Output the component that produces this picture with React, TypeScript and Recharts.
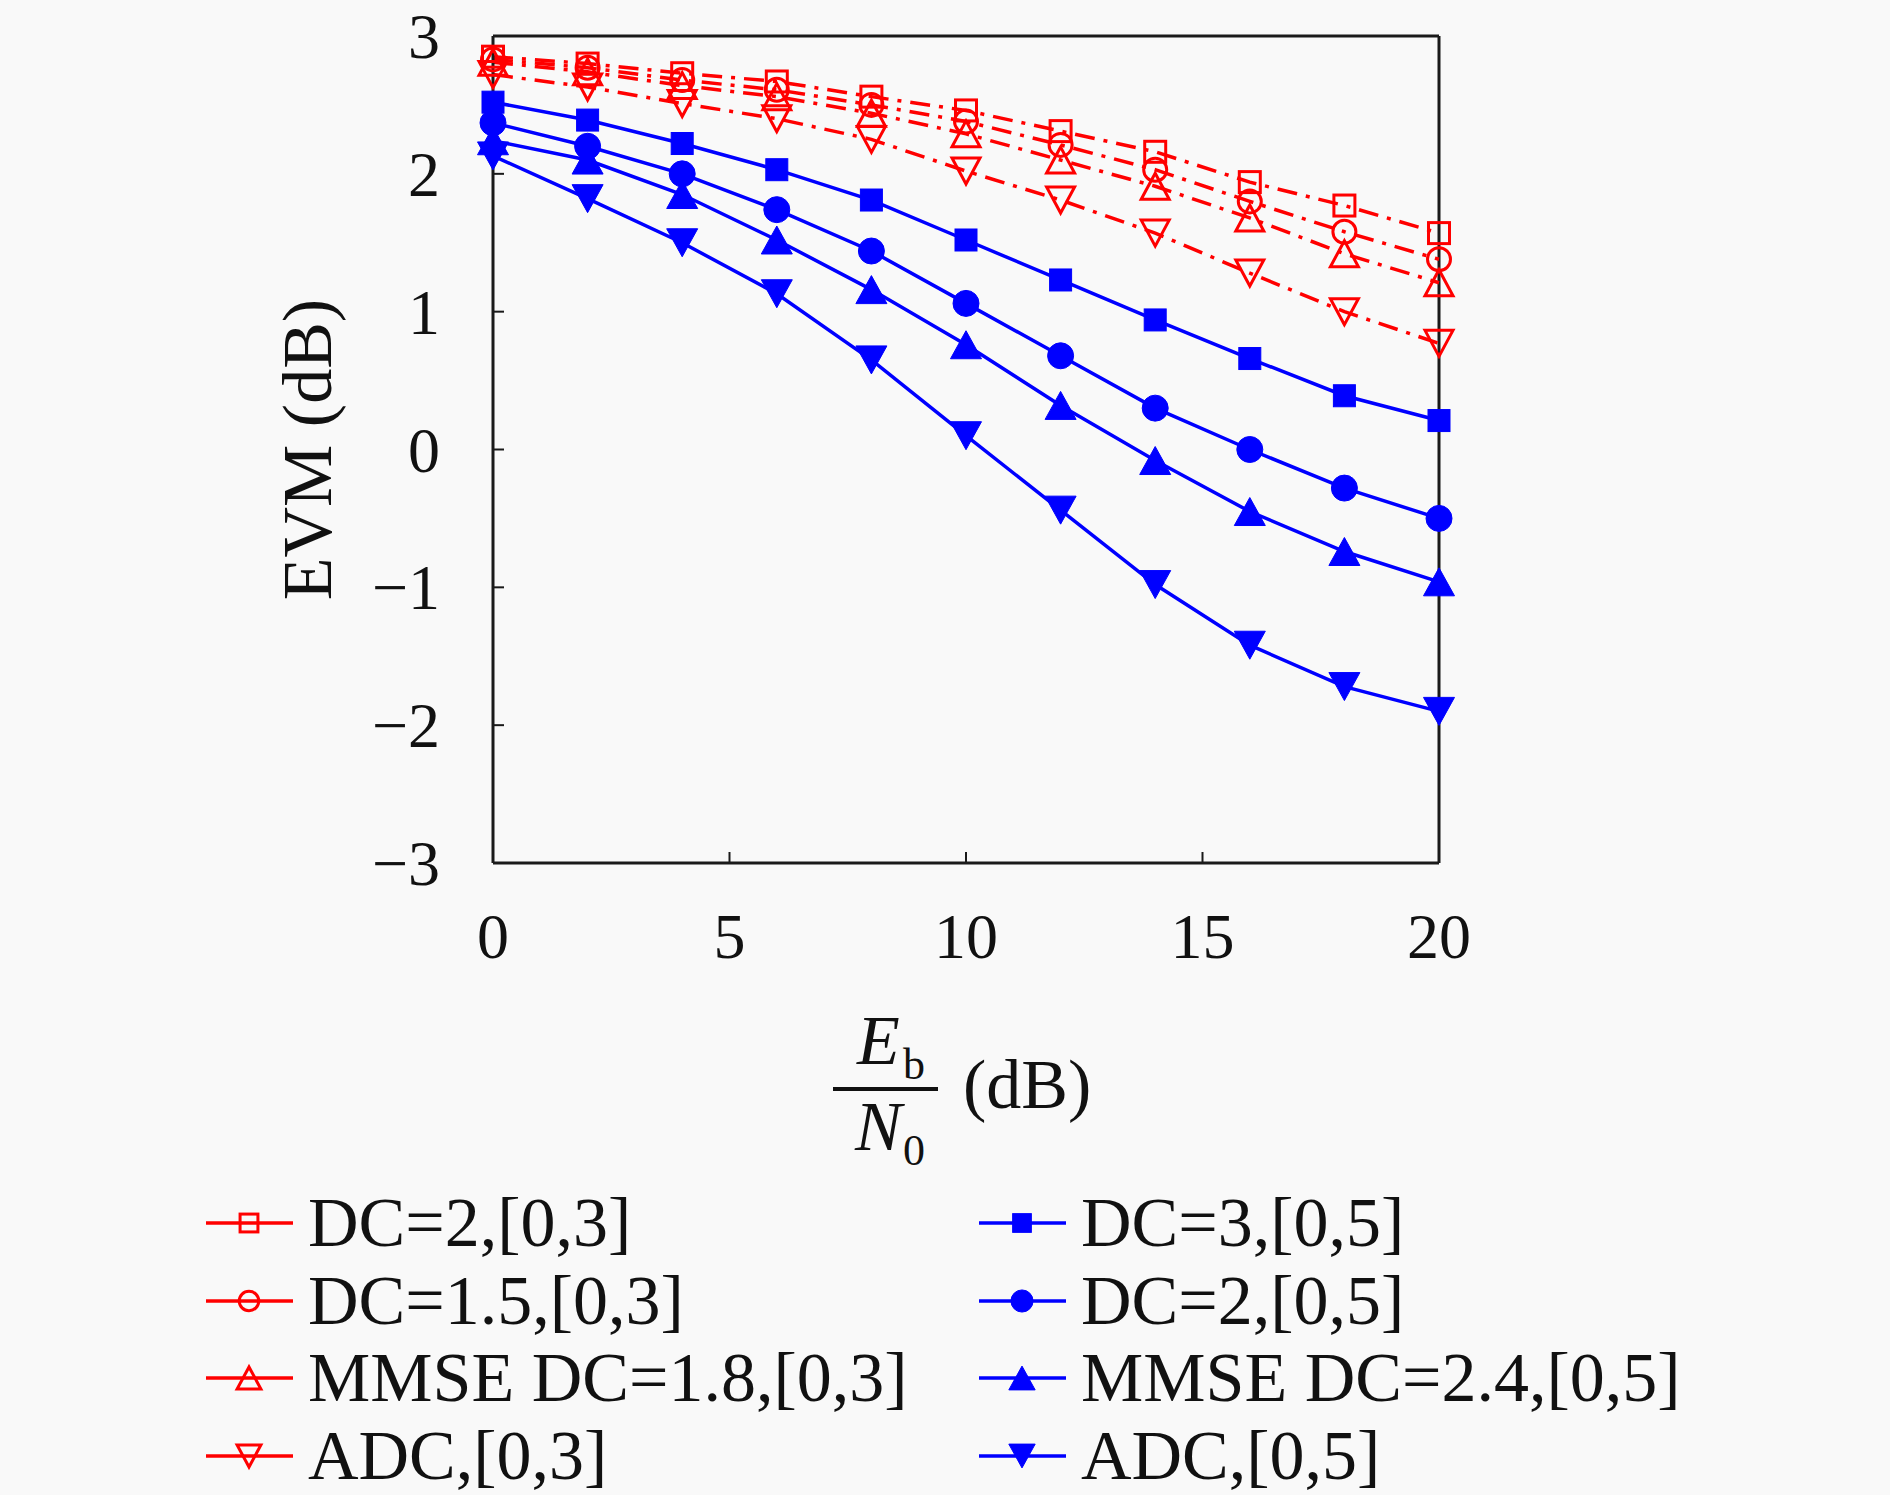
import React from 'react';
import { LineChart, Line, XAxis, YAxis, ReferenceLine, Legend } from 'recharts';

// ---- data ----
const EBN0 = [0, 2, 4, 6, 8, 10, 12, 14, 16, 18, 20];
const X_TICKS = [0, 5, 10, 15, 20];
const Y_TICKS = [-3, -2, -1, 0, 1, 2, 3];

const DC2_03 = [2.85, 2.8, 2.73, 2.67, 2.56, 2.46, 2.31, 2.16, 1.94, 1.77, 1.57];
const DC15_03 = [2.83, 2.77, 2.68, 2.61, 2.5, 2.38, 2.21, 2.03, 1.8, 1.58, 1.38];
const MMSE18_03 = [2.81, 2.74, 2.64, 2.56, 2.44, 2.29, 2.1, 1.91, 1.68, 1.42, 1.21];
const ADC_03 = [2.72, 2.63, 2.51, 2.4, 2.25, 2.02, 1.81, 1.57, 1.28, 1.0, 0.77];

const DC3_05 = [2.52, 2.39, 2.22, 2.03, 1.81, 1.52, 1.23, 0.94, 0.66, 0.39, 0.21];
const DC2_05 = [2.37, 2.2, 2.0, 1.74, 1.44, 1.06, 0.68, 0.3, 0.0, -0.28, -0.5];
const MMSE24_05 = [2.24, 2.1, 1.85, 1.52, 1.16, 0.76, 0.32, -0.08, -0.45, -0.74, -0.96];
const ADC_05 = [2.13, 1.82, 1.5, 1.13, 0.65, 0.1, -0.44, -0.98, -1.42, -1.72, -1.9];

const RED = '#ff0000';
const BLUE = '#0000ff';
const FONT = '"Liberation Serif", "Times New Roman", serif';

type Shape = 'square' | 'circle' | 'up' | 'down';
interface Series {
  key: string;
  name: string;
  color: string;
  shape: Shape;
  filled: boolean;
  dash?: string;
  values: number[];
}

const SERIES: Series[] = [
  { key: 'a', name: 'DC=2,[0,3]', color: RED, shape: 'square', filled: false, dash: '20 9 4 9', values: DC2_03 },
  { key: 'b', name: 'DC=1.5,[0,3]', color: RED, shape: 'circle', filled: false, dash: '20 9 4 9', values: DC15_03 },
  { key: 'c', name: 'MMSE DC=1.8,[0,3]', color: RED, shape: 'up', filled: false, dash: '20 9 4 9', values: MMSE18_03 },
  { key: 'd', name: 'ADC,[0,3]', color: RED, shape: 'down', filled: false, dash: '20 9 4 9', values: ADC_03 },
  { key: 'e', name: 'DC=3,[0,5]', color: BLUE, shape: 'square', filled: true, values: DC3_05 },
  { key: 'f', name: 'DC=2,[0,5]', color: BLUE, shape: 'circle', filled: true, values: DC2_05 },
  { key: 'g', name: 'MMSE DC=2.4,[0,5]', color: BLUE, shape: 'up', filled: true, values: MMSE24_05 },
  { key: 'h', name: 'ADC,[0,5]', color: BLUE, shape: 'down', filled: true, values: ADC_05 },
];

const DATA = EBN0.map((x, i) => {
  const row: Record<string, number> = { x };
  SERIES.forEach((s) => {
    row[s.key] = s.values[i];
  });
  return row;
});

// ---- layout ----
const W = 1890;
const H = 1495;
const PLOT_LEFT = 493;
const PLOT_RIGHT = 1439;
const PLOT_TOP = 36;
const PLOT_BOTTOM = 863;
const Y_AXIS_W = 100;
const X_AXIS_H = 100;
const AXIS_COLOR = '#1a1a1a';

function Marker({ cx, cy, shape, color, filled, scale = 1 }: { cx: number; cy: number; shape: Shape; color: string; filled: boolean; scale?: number }) {
  if (cx == null || cy == null || isNaN(cx) || isNaN(cy)) return null;
  const fill = filled ? color : 'none';
  const sw = filled ? 1 : 3;
  if (shape === 'square') {
    const s = (filled ? 22 : 21) * scale;
    return <rect x={cx - s / 2} y={cy - s / 2} width={s} height={s} fill={fill} stroke={color} strokeWidth={sw} />;
  }
  if (shape === 'circle') {
    const r = (filled ? 13 : 11.5) * scale;
    return <circle cx={cx} cy={cy} r={r} fill={fill} stroke={color} strokeWidth={sw} />;
  }
  const w = (filled ? 31 : 28) * scale;
  const h = (filled ? 28 : 26) * scale;
  const pts =
    shape === 'up'
      ? `${cx},${cy - h / 2} ${cx - w / 2},${cy + h / 2} ${cx + w / 2},${cy + h / 2}`
      : `${cx},${cy + h / 2} ${cx - w / 2},${cy - h / 2} ${cx + w / 2},${cy - h / 2}`;
  return <polygon points={pts} fill={fill} stroke={color} strokeWidth={sw} strokeLinejoin="miter" />;
}

const fmtMinus = (v: number) => (v < 0 ? `\u2212${Math.abs(v)}` : `${v}`);

const XTick = (props: any) => {
  const { x, y, payload } = props;
  return (
    <g>
      <line x1={x} x2={x} y1={PLOT_BOTTOM} y2={PLOT_BOTTOM - 11} stroke={AXIS_COLOR} strokeWidth={2} />
      <text x={x} y={y + 22} textAnchor="middle" fontFamily={FONT} fontSize={64} fill="#111">
        {fmtMinus(payload.value)}
      </text>
    </g>
  );
};

const YTick = (props: any) => {
  const { x, y, payload } = props;
  return (
    <g>
      <line x1={PLOT_LEFT} x2={PLOT_LEFT + 11} y1={y} y2={y} stroke={AXIS_COLOR} strokeWidth={2} />
      <text x={x} y={y + 22} textAnchor="end" fontFamily={FONT} fontSize={64} fill="#111">
        {fmtMinus(payload.value)}
      </text>
    </g>
  );
};

const YLabel = () => {
  const cx = 307;
  const cy = (PLOT_TOP + PLOT_BOTTOM) / 2;
  return (
    <text
      x={cx}
      y={cy}
      transform={`rotate(-90 ${cx} ${cy})`}
      textAnchor="middle"
      dominantBaseline="central"
      fontFamily={FONT}
      fontSize={70}
      fill="#111"
    >
      EVM (dB)
    </text>
  );
};

const XLabel = () => {
  return (
    <g fontFamily={FONT} fill="#111">
      <text x={857} y={1064} fontSize={70} fontStyle="italic">E</text>
      <text x={903} y={1079} fontSize={44}>b</text>
      <line x1={833} x2={938} y1={1089} y2={1089} stroke="#111" strokeWidth={4} />
      <text x={855} y={1150} fontSize={70} fontStyle="italic">N</text>
      <text x={903} y={1165} fontSize={44}>0</text>
      <text x={963} y={1108} fontSize={70}>(dB)</text>
    </g>
  );
};

const ROW_CENTERS = [43, 121, 198, 276];
const COL_STARTS = [206, 979];

const LegendContent = (props: any) => {
  const payload: any[] = props.payload || [];
  const items = SERIES.filter((s) => payload.some((p) => p.value === s.name));
  return (
    <svg width={W} height={320} style={{ display: 'block', overflow: 'visible' }}>
      {items.map((s, i) => {
        const col = i < 4 ? 0 : 1;
        const row = i % 4;
        const x0 = COL_STARTS[col];
        const cy = ROW_CENTERS[row];
        return (
          <g key={s.key}>
            <line x1={x0} x2={x0 + 87} y1={cy} y2={cy} stroke={s.color} strokeWidth={3.5} />
            <Marker cx={x0 + 43} cy={cy} shape={s.shape} color={s.color} filled={s.filled} scale={0.85} />
            <text x={x0 + 102} y={cy + 23} fontFamily={FONT} fontSize={70} fill="#111">
              {s.name}
            </text>
          </g>
        );
      })}
    </svg>
  );
};

export default function App() {
  return (
    <div style={{ position: 'absolute', left: 0, top: 0, width: W, height: H, background: '#f9f9f9' }}>
      <LineChart
        width={W}
        height={H}
        data={DATA}
        margin={{
          top: PLOT_TOP,
          right: W - PLOT_RIGHT,
          bottom: H - PLOT_BOTTOM - X_AXIS_H,
          left: PLOT_LEFT - Y_AXIS_W,
        }}
      >
        <XAxis
          type="number"
          dataKey="x"
          domain={[0, 20]}
          ticks={X_TICKS}
          height={X_AXIS_H}
          axisLine={{ stroke: AXIS_COLOR, strokeWidth: 3 }}
          tickLine={false}
          tickSize={0}
          tickMargin={73}
          tick={<XTick />}
          interval={0}
          label={<XLabel />}
        />
        <YAxis
          type="number"
          domain={[-3, 3]}
          ticks={Y_TICKS}
          width={Y_AXIS_W}
          axisLine={{ stroke: AXIS_COLOR, strokeWidth: 3 }}
          tickLine={false}
          tickSize={0}
          tickMargin={53}
          tick={<YTick />}
          interval={0}
          label={<YLabel />}
        />
        <ReferenceLine y={3} stroke={AXIS_COLOR} strokeWidth={3} />
        <ReferenceLine x={20} stroke={AXIS_COLOR} strokeWidth={3} />
        {SERIES.map((s) => (
          <Line
            key={s.key}
            dataKey={s.key}
            name={s.name}
            stroke={s.color}
            strokeWidth={3.5}
            strokeDasharray={s.dash}
            isAnimationActive={false}
            activeDot={false}
            dot={(p: any) => (
              <Marker key={`${s.key}-${p.index}`} cx={p.cx} cy={p.cy} shape={s.shape} color={s.color} filled={s.filled} />
            )}
          />
        ))}
        <Legend
          layout="horizontal"
          verticalAlign="middle"
          align="center"
          wrapperStyle={{ position: 'absolute', left: 0, top: 1180, width: W, height: 320 }}
          content={<LegendContent />}
        />
      </LineChart>
    </div>
  );
}
